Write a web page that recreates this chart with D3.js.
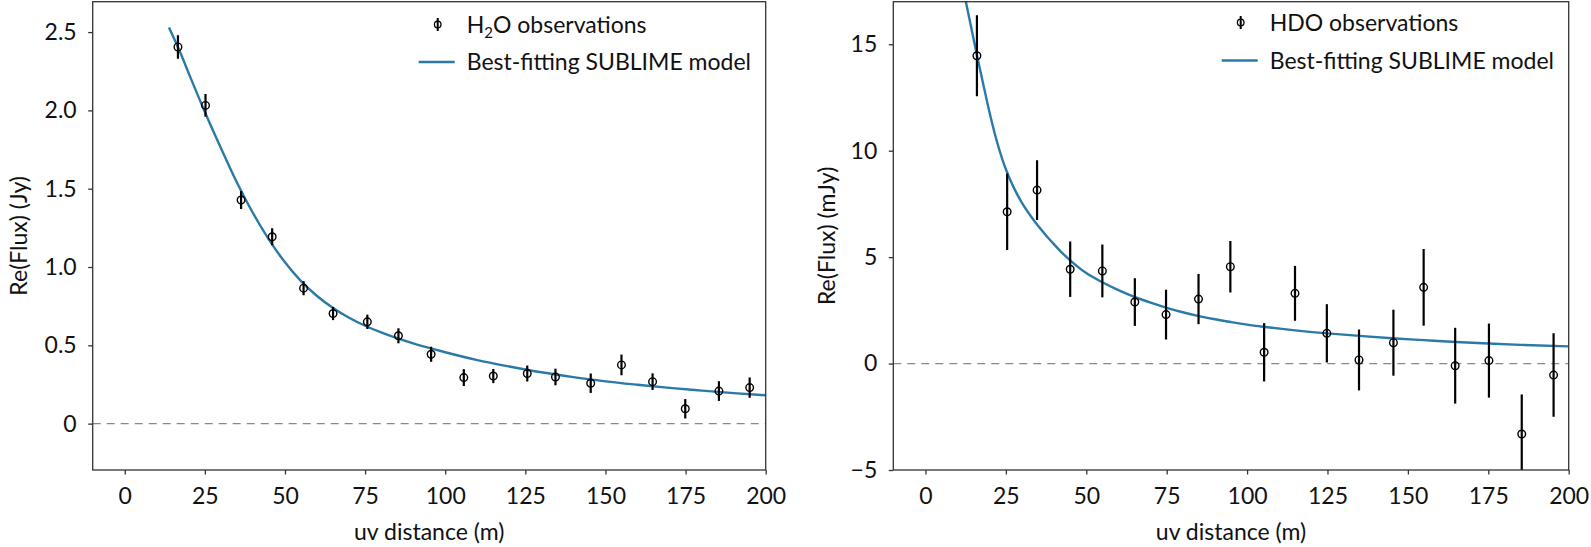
<!DOCTYPE html>
<html>
<head>
<meta charset="utf-8">
<script src="https://cdn.jsdelivr.net/npm/d3@7"></script>
<style>
    body { margin: 0; background: #fff; }
    svg { display: block; font-family: Lato, "Open Sans", sans-serif; }
</style>
</head>
<body>
<div id="chart"></div>
<script>
// H2O panel: observations (uv distance in m, Re(Flux) in Jy, 1-sigma error)
const h2oDist = [16.6, 25.2, 36.3, 46.0, 55.8, 65.0, 75.7, 85.4, 95.6, 105.8, 115.0, 125.6, 134.4, 145.4, 155.0, 164.7, 174.9, 185.4, 195.0];
const h2oFlux = [2.405, 2.032, 1.428, 1.193, 0.865, 0.703, 0.650, 0.561, 0.443, 0.294, 0.304, 0.320, 0.298, 0.258, 0.375, 0.268, 0.095, 0.208, 0.230];
const h2oErr = [0.075, 0.072, 0.057, 0.054, 0.045, 0.042, 0.046, 0.048, 0.048, 0.054, 0.045, 0.051, 0.053, 0.062, 0.066, 0.053, 0.062, 0.063, 0.065];

// H2O best-fitting SUBLIME model
const h2oModelDist = [13.8, 17, 20, 25, 30, 35, 40, 45, 50, 55, 60, 65, 70, 75, 80, 90, 100, 110, 120, 130, 140, 150, 160, 170, 180, 190, 200];
const h2oModelFlux = [2.53, 2.385, 2.235, 1.99, 1.76, 1.54, 1.345, 1.175, 1.03, 0.91, 0.815, 0.738, 0.676, 0.625, 0.582, 0.512, 0.456, 0.406, 0.365, 0.328, 0.297, 0.270, 0.248, 0.228, 0.211, 0.195, 0.181];

// HDO panel: observations (Re(Flux) in mJy)
const hdoDist = [16.0, 25.4, 34.7, 45.0, 55.0, 65.1, 74.8, 84.9, 94.8, 105.3, 114.9, 124.8, 134.8, 145.5, 154.9, 164.7, 175.2, 185.4, 195.3];
const hdoFlux = [14.46, 7.13, 8.15, 4.43, 4.35, 2.89, 2.30, 3.03, 4.55, 0.53, 3.30, 1.42, 0.17, 0.98, 3.58, -0.10, 0.14, -3.31, -0.54];
const hdoErr = [1.9, 1.8, 1.4, 1.3, 1.24, 1.12, 1.17, 1.18, 1.21, 1.37, 1.29, 1.37, 1.43, 1.55, 1.8, 1.78, 1.74, 1.86, 1.96];

// HDO best-fitting SUBLIME model
const hdoModelDist = [12, 14, 16, 18, 20, 22, 24, 26, 28, 30, 32.5, 35, 37.5, 40, 42.5, 45, 50, 55, 60, 65, 70, 75, 80, 85, 90, 95, 100, 105, 115, 125, 135, 145, 155, 165, 175, 185, 200];
const hdoModelFlux = [17.4, 15.95, 14.5, 13.1, 11.75, 10.55, 9.55, 8.75, 8.1, 7.55, 6.98, 6.47, 6.02, 5.6, 5.2, 4.85, 4.25, 3.82, 3.45, 3.13, 2.86, 2.62, 2.41, 2.23, 2.08, 1.95, 1.83, 1.73, 1.56, 1.42, 1.30, 1.19, 1.10, 1.01, 0.94, 0.88, 0.81];

// Axis ticks
const xTicks = [0, 25, 50, 75, 100, 125, 150, 175, 200];
const h2oYTicks = [0, 0.5, 1.0, 1.5, 2.0, 2.5];
const hdoYTicks = [-5, 0, 5, 10, 15];

const W = 1591, H = 547;
const plotTop = 1.7, plotBottom = 470;
const modelColor = "#2a7aa8";
const axisColor = "#333";
const fontSize = 23;

const svg = d3.select("#chart")
    .append("svg")
    .attr("width", W)
    .attr("height", H);

function drawPanel(p) {
    const x = d3.scaleLinear().domain([-10, 200]).range([p.left, p.right]);
    const y = d3.scaleLinear().domain(p.yDomain).range([plotBottom, plotTop]);

    const g = svg.append("g");

    g.append("clipPath")
        .attr("id", p.id + "-clip")
        .append("rect")
        .attr("x", p.left)
        .attr("y", plotTop)
        .attr("width", p.right - p.left)
        .attr("height", plotBottom - plotTop);

    const plot = g.append("g").attr("clip-path", `url(#${p.id}-clip)`);

    // Zero reference
    plot.append("line")
        .attr("x1", p.left)
        .attr("x2", p.right)
        .attr("y1", y(0))
        .attr("y2", y(0))
        .attr("stroke", "#8a8a8a")
        .attr("stroke-width", 1.3)
        .attr("stroke-dasharray", "8,6");

    // Model curve
    const line = d3.line()
        .x(d => x(d[0]))
        .y(d => y(d[1]))
        .curve(d3.curveMonotoneX);

    plot.append("path")
        .datum(d3.zip(p.modelDist, p.modelFlux))
        .attr("d", line)
        .attr("fill", "none")
        .attr("stroke", modelColor)
        .attr("stroke-width", 2.4);

    // Observations with error bars
    const obs = d3.range(p.dist.length).map(i => ({ d: p.dist[i], f: p.flux[i], e: p.err[i] }));

    plot.selectAll(".err")
        .data(obs)
        .enter()
        .append("line")
        .attr("class", "err")
        .attr("x1", d => x(d.d))
        .attr("x2", d => x(d.d))
        .attr("y1", d => y(d.f - d.e))
        .attr("y2", d => y(d.f + d.e))
        .attr("stroke", "#000")
        .attr("stroke-width", 2.2);

    plot.selectAll(".obs")
        .data(obs)
        .enter()
        .append("circle")
        .attr("class", "obs")
        .attr("cx", d => x(d.d))
        .attr("cy", d => y(d.f))
        .attr("r", 3.8)
        .attr("fill", "none")
        .attr("stroke", "#000")
        .attr("stroke-width", 1.4);

    // Axes
    const xAxis = g.append("g")
        .attr("transform", `translate(0,${plotBottom})`)
        .call(d3.axisBottom(x).tickValues(xTicks).tickSize(4.5).tickPadding(13.5).tickSizeOuter(0));

    const yAxis = g.append("g")
        .attr("transform", `translate(${p.left},0)`)
        .call(d3.axisLeft(y).tickValues(p.yTicks).tickFormat(p.yFormat).tickSize(4.5).tickPadding(11.5).tickSizeOuter(0));

    [xAxis, yAxis].forEach(a => {
        a.select(".domain").remove();
        a.selectAll("line").attr("stroke", axisColor).attr("stroke-width", 1.3);
        a.selectAll("text")
            .attr("fill", "#111")
            .style("font-size", fontSize + "px")
            .style("font-family", "Lato, 'Open Sans', sans-serif");
    });

    // Frame
    g.append("rect")
        .attr("x", p.left)
        .attr("y", plotTop)
        .attr("width", p.right - p.left)
        .attr("height", plotBottom - plotTop)
        .attr("fill", "none")
        .attr("stroke", axisColor)
        .attr("stroke-width", 1.3);

    // Axis titles
    g.append("text")
        .attr("x", (p.left + p.right) / 2)
        .attr("y", 540)
        .attr("text-anchor", "middle")
        .attr("fill", "#111")
        .style("font-size", fontSize + "px")
        .text("uv distance (m)");

    g.append("text")
        .attr("transform", `translate(${p.yLabelX},${(plotTop + plotBottom) / 2}) rotate(-90)`)
        .attr("text-anchor", "middle")
        .attr("dominant-baseline", "central")
        .attr("fill", "#111")
        .style("font-size", fontSize + "px")
        .text(p.yLabel);

    // Legend
    const lx = p.right - 299;
    const legend = g.append("g");
    const markY = p.legendY[0] - 8.5;

    legend.append("line")
        .attr("x1", lx - 29).attr("x2", lx - 29)
        .attr("y1", markY - 6.5).attr("y2", markY + 6.5)
        .attr("stroke", "#000").attr("stroke-width", 2);
    legend.append("circle")
        .attr("cx", lx - 29).attr("cy", markY)
        .attr("r", 3.3)
        .attr("fill", "none").attr("stroke", "#000").attr("stroke-width", 1.3);

    const label1 = legend.append("text")
        .attr("x", lx)
        .attr("y", p.legendY[0])
        .attr("fill", "#111")
        .style("font-size", fontSize + "px");
    p.obsLabel(label1);

    legend.append("line")
        .attr("x1", lx - 48).attr("x2", lx - 12)
        .attr("y1", p.legendY[1] - 8).attr("y2", p.legendY[1] - 8)
        .attr("stroke", modelColor).attr("stroke-width", 2.4);

    legend.append("text")
        .attr("x", lx)
        .attr("y", p.legendY[1])
        .attr("fill", "#111")
        .style("font-size", fontSize + "px")
        .text("Best-fitting SUBLIME model");
}

drawPanel({
    id: "h2o",
    left: 92.7, right: 765.7,
    yDomain: [-0.296, 2.694],
    yTicks: h2oYTicks,
    yFormat: d => d === 0 ? "0" : d3.format(".1f")(d),
    dist: h2oDist, flux: h2oFlux, err: h2oErr,
    modelDist: h2oModelDist, modelFlux: h2oModelFlux,
    yLabel: "Re(Flux) (Jy)",
    yLabelX: 18,
    legendY: [33, 70],
    obsLabel: t => {
        t.append("tspan").text("H");
        t.append("tspan").attr("dy", 5).style("font-size", "15px").text("2");
        t.append("tspan").attr("dy", -5).text("O observations");
    }
});

drawPanel({
    id: "hdo",
    left: 893.3, right: 1568.7,
    yDomain: [-5, 17],
    yTicks: hdoYTicks,
    yFormat: d3.format("d"),
    dist: hdoDist, flux: hdoFlux, err: hdoErr,
    modelDist: hdoModelDist, modelFlux: hdoModelFlux,
    yLabel: "Re(Flux) (mJy)",
    yLabelX: 826,
    legendY: [31, 68.5],
    obsLabel: t => t.text("HDO observations")
});
</script>
</body>
</html>
